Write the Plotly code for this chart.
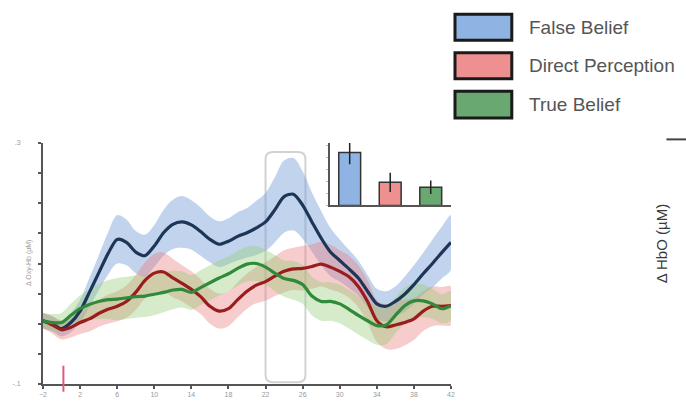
import plotly.graph_objects as go

# Time after stimulus onset (s)
time_s = [-2, -1, 0, 1, 2, 3, 4, 5, 6, 7, 8, 9, 10, 11, 12, 13, 14, 15, 16, 17, 18, 19,
          20, 21, 22, 23, 24, 25, 26, 27, 28, 29, 30, 31, 32, 33, 34, 35, 36, 37, 38, 39,
          40, 41, 42]

# Grand-average Δ HbO (µM) per condition
false_belief = [0.005, 0.000, -0.008, 0.002, 0.021, 0.052, 0.084, 0.116, 0.140, 0.135, 0.119,
                0.113, 0.129, 0.151, 0.165, 0.169, 0.164, 0.153, 0.140, 0.132, 0.137, 0.145,
                0.151, 0.159, 0.169, 0.189, 0.211, 0.215, 0.197, 0.169, 0.142, 0.119, 0.105,
                0.091, 0.076, 0.054, 0.033, 0.029, 0.037, 0.049, 0.065, 0.083, 0.100, 0.118,
                0.135]
direct_perception = [0.005, -0.002, -0.010, -0.006, 0.002, 0.008, 0.017, 0.024, 0.029, 0.037,
                     0.052, 0.072, 0.084, 0.086, 0.076, 0.067, 0.057, 0.045, 0.029, 0.021,
                     0.025, 0.040, 0.054, 0.064, 0.070, 0.079, 0.087, 0.091, 0.092, 0.095,
                     0.099, 0.094, 0.087, 0.078, 0.062, 0.037, 0.005, -0.005, -0.002, 0.002,
                     0.008, 0.021, 0.029, 0.029, 0.030]
true_belief = [0.005, 0.002, 0.002, 0.014, 0.025, 0.032, 0.037, 0.040, 0.041, 0.043, 0.045,
               0.046, 0.049, 0.052, 0.056, 0.057, 0.052, 0.060, 0.068, 0.076, 0.083, 0.092,
               0.099, 0.100, 0.094, 0.084, 0.075, 0.072, 0.065, 0.046, 0.037, 0.037, 0.033,
               0.024, 0.014, 0.005, -0.003, -0.002, 0.014, 0.030, 0.038, 0.038, 0.033, 0.025,
               0.030]

# Standard error of the mean (µM)
false_belief_se = [0.013, 0.013, 0.013, 0.016, 0.019, 0.024, 0.029, 0.035, 0.040, 0.038, 0.035,
                   0.035, 0.035, 0.038, 0.041, 0.043, 0.041, 0.040, 0.038, 0.038, 0.038, 0.040,
                   0.041, 0.045, 0.048, 0.054, 0.060, 0.060, 0.056, 0.049, 0.045, 0.040, 0.035,
                   0.032, 0.029, 0.027, 0.025, 0.025, 0.025, 0.029, 0.032, 0.035, 0.040, 0.043,
                   0.045]
direct_perception_se = [0.013, 0.014, 0.016, 0.017, 0.019, 0.021, 0.022, 0.024, 0.025, 0.027,
                        0.029, 0.030, 0.032, 0.032, 0.032, 0.030, 0.030, 0.029, 0.029, 0.029,
                        0.029, 0.029, 0.029, 0.030, 0.032, 0.033, 0.035, 0.035, 0.037, 0.037,
                        0.037, 0.037, 0.035, 0.035, 0.035, 0.035, 0.035, 0.037, 0.040, 0.038,
                        0.035, 0.033, 0.033, 0.032, 0.032]
true_belief_se = [0.013, 0.014, 0.016, 0.019, 0.022, 0.025, 0.029, 0.032, 0.035, 0.035, 0.035,
                  0.035, 0.035, 0.033, 0.032, 0.030, 0.029, 0.029, 0.029, 0.029, 0.029, 0.029,
                  0.029, 0.029, 0.029, 0.030, 0.030, 0.032, 0.032, 0.032, 0.032, 0.032, 0.032,
                  0.032, 0.032, 0.032, 0.032, 0.032, 0.030, 0.030, 0.029, 0.027, 0.025, 0.024,
                  0.024]

# Mean response in the 22-26 s window (inset)
conditions = ["False Belief", "Direct Perception", "True Belief"]
window_mean = [0.110, 0.048, 0.038]
window_se = [0.024, 0.020, 0.014]

x_ticks = [-2, 2, 6, 10, 14, 18, 22, 26, 30, 34, 38, 42]
y_ticks = [-0.1, -0.05, 0.0, 0.05, 0.1, 0.15, 0.2, 0.25, 0.3]
y_ticktext = ["-.1", "", "", "", "", "", "", "", ".3"]

window_start, window_end = 22.0, 26.3
stim_onset = 0.2

line_colors = ["#1d3557", "#9b1c1c", "#2f8a3a"]
band_colors = ["rgba(120,160,215,0.45)", "rgba(235,120,120,0.38)", "rgba(150,205,120,0.40)"]
bar_colors = ["#8fb4e3", "#ee9090", "#6aa872"]

series = [
    (false_belief, false_belief_se),
    (direct_perception, direct_perception_se),
    (true_belief, true_belief_se),
]

fig = go.Figure()

# SEM bands
for (mean, se), bc, name in zip(series, band_colors, conditions):
    upper = [m + s for m, s in zip(mean, se)]
    lower = [m - s for m, s in zip(mean, se)]
    fig.add_trace(go.Scatter(
        x=time_s + time_s[::-1], y=upper + lower[::-1],
        fill="toself", fillcolor=bc, line=dict(width=0, shape="spline"),
        hoverinfo="skip", showlegend=False, name=name + " SEM",
    ))

# Mean time courses
for (mean, se), lc, name in zip(series, line_colors, conditions):
    fig.add_trace(go.Scatter(
        x=time_s, y=mean, mode="lines", name=name,
        line=dict(color=lc, width=3.2, shape="spline", smoothing=0.8),
        showlegend=False,
    ))

# Inset bar chart
fig.add_trace(go.Bar(
    x=[0, 1, 2], y=window_mean, width=0.54,
    marker=dict(color=bar_colors, line=dict(color="#333333", width=1.5)),
    error_y=dict(type="data", array=window_se, color="#222222", thickness=1.5, width=0),
    xaxis="x2", yaxis="y2", showlegend=False, name="22-26 s",
))

shapes = []

# Analysis window (rounded rectangle)
rx, ry = 0.8, 0.012
y_lo, y_hi = -0.097, 0.285
path = (f"M {window_start + rx},{y_lo} L {window_end - rx},{y_lo} "
        f"Q {window_end},{y_lo} {window_end},{y_lo + ry} "
        f"L {window_end},{y_hi - ry} Q {window_end},{y_hi} {window_end - rx},{y_hi} "
        f"L {window_start + rx},{y_hi} Q {window_start},{y_hi} {window_start},{y_hi - ry} "
        f"L {window_start},{y_lo + ry} Q {window_start},{y_lo} {window_start + rx},{y_lo} Z")
shapes.append(dict(type="path", path=path, xref="x", yref="y",
                   line=dict(color="#d2d2d2", width=2), layer="below"))

# Stimulus onset marker
shapes.append(dict(type="line", xref="x", yref="paper", x0=stim_onset, x1=stim_onset,
                   y0=-0.032, y1=0.076, line=dict(color="#e05a78", width=2)))

# Legend boxes
legend_y = [(1.426, 1.534), (1.267, 1.375), (1.104, 1.215)]
annotations = []
for (y0, y1), col, name in zip(legend_y, bar_colors, conditions):
    shapes.append(dict(type="rect", xref="paper", yref="paper", x0=1.0098, x1=1.149,
                       y0=y0, y1=y1, fillcolor=col, line=dict(color="#1a1a1a", width=3)))
    annotations.append(dict(xref="paper", yref="paper", x=1.186, y=(y0 + y1) / 2,
                            text=name, showarrow=False, xanchor="left", yanchor="middle",
                            font=dict(family="Liberation Sans, Arial", size=19, color="#555555")))

# Neighbouring panel axis label
annotations.append(dict(xref="paper", yref="paper", x=1.542, y=0.582, text="Δ HbO (µM)",
                        textangle=-90, showarrow=False,
                        font=dict(family="Liberation Sans, Arial", size=15, color="#3a3a3a")))
shapes.append(dict(type="line", xref="paper", yref="paper", x0=1.528, x1=1.578,
                   y0=1.015, y1=1.015, line=dict(color="#444444", width=2)))

# Main y-axis title
annotations.append(dict(xref="paper", yref="paper", x=-0.049, y=0.502, text="Δ Oxy-Hb (µM)",
                        textangle=-90, showarrow=False,
                        font=dict(family="Liberation Sans, Arial", size=7, color="#9a9a9a")))

axis_font = dict(family="Liberation Sans, Arial", size=7, color="#9a9a9a")

fig.update_layout(
    width=686, height=410,
    margin=dict(l=42, r=235, t=143, b=16),
    paper_bgcolor="white", plot_bgcolor="white",
    shapes=shapes, annotations=annotations,
    xaxis=dict(range=[-2, 42], tickvals=x_ticks, ticks="outside", ticklen=3,
               tickcolor="#555555", tickwidth=1.5, showline=True, linecolor="#555555",
               linewidth=2, showgrid=False, zeroline=False, tickfont=axis_font),
    yaxis=dict(range=[-0.1, 0.3], tickvals=y_ticks, ticktext=y_ticktext, ticks="outside",
               ticklen=3, tickcolor="#555555", tickwidth=1.5, showline=True,
               linecolor="#555555", linewidth=2, showgrid=False, zeroline=False,
               tickfont=axis_font, ticklabelstandoff=16),
    xaxis2=dict(domain=[0.704, 1.0], anchor="y2", range=[-0.48, 2.5], showticklabels=False,
                ticks="", showline=True, linecolor="#555555", linewidth=1.5,
                showgrid=False, zeroline=False),
    yaxis2=dict(domain=[0.741, 1.0], anchor="x2", range=[0, 0.13], showticklabels=False,
                ticks="outside", ticklen=2, tickcolor="#bbbbbb", dtick=0.025, showline=True,
                linecolor="#555555", linewidth=1.5, showgrid=False, zeroline=False),
)

fig.write_html("out.html")
